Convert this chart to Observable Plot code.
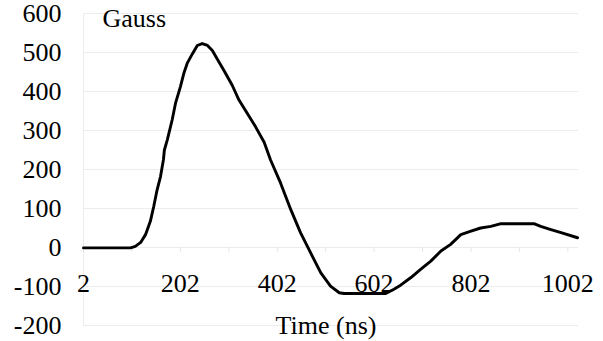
<!DOCTYPE html>
<html><head><meta charset="utf-8">
<script src="https://cdn.jsdelivr.net/npm/d3@7"></script>
<script src="https://cdn.jsdelivr.net/npm/@observablehq/plot@0.6"></script>
<style>
body{margin:0;background:#fff;font-family:"Liberation Serif",serif}
</style>
</head><body><div id="chart"></div>
<script>
const time  = [2, 99, 109, 120, 130, 140, 147, 154, 161, 167, 169, 175, 185, 192, 202, 209, 216, 227, 237, 247, 258, 268, 282, 292, 309, 323, 340, 357, 375, 388, 409, 430, 450, 471, 492, 512, 530, 540, 626, 643, 654, 678, 698, 719, 740, 760, 781, 802, 822, 843, 864, 932, 946, 967, 988, 1022];
const gauss = [-1, -1, 3, 13, 33, 67, 105, 148, 182, 225, 250, 276, 327, 370, 412, 446, 472, 497, 518, 523, 518, 505, 475, 454, 416, 378, 344, 310, 270, 225, 165, 97, 38, -14, -65, -99, -116, -118, -118, -107, -99, -77, -56, -35, -9, 8, 33, 42, 50, 54, 61, 61, 54, 46, 38, 25];
const yTicks = [-200, -100, 0, 100, 200, 300, 400, 500, 600];
const xLabelTicks = [2, 202, 402, 602, 802, 1002];
const xMinorTicks = [2, 102, 202, 302, 402, 502, 602, 702, 802, 902, 1002];
const yTitle = "Gauss";
const xTitle = "Time (ns)";

const data = time.map((t, i) => ({t, v: gauss[i]}));
const chart = Plot.plot({
  width: 603, height: 341,
  marginLeft: 83, marginRight: 25, marginTop: 13, marginBottom: 16,
  style: {fontFamily: "Liberation Serif", fontSize: "26px", color: "#000", background: "#fff"},
  x: {domain: [2, 1024]},
  y: {domain: [-200, 600]},
  marks: [
    Plot.ruleY(yTicks, {stroke: "#ececec"}),
    Plot.ruleX([2], {stroke: "#ececec"}),
    Plot.ruleX(xMinorTicks, {y1: 0, y2: -12, stroke: "#e4e4e4"}),
    Plot.axisY({ticks: yTicks, tickSize: 0, tickPadding: 22, label: null, tickFormat: d => String(d)}),
    Plot.axisX({ticks: xLabelTicks, tickSize: 0, tickPadding: -52, label: null, tickFormat: d => String(d)}),
    Plot.line(data, {x: "t", y: "v", stroke: "#000", strokeWidth: 2.9}),
    Plot.text([yTitle], {frameAnchor: "top-left", dx: 19, dy: 5, textAnchor: "start", lineAnchor: "middle"}),
    Plot.text([xTitle], {frameAnchor: "bottom", dx: -5, dy: 0, lineAnchor: "middle"})
  ]
});
document.getElementById("chart").appendChild(chart);
</script>
</body></html>
